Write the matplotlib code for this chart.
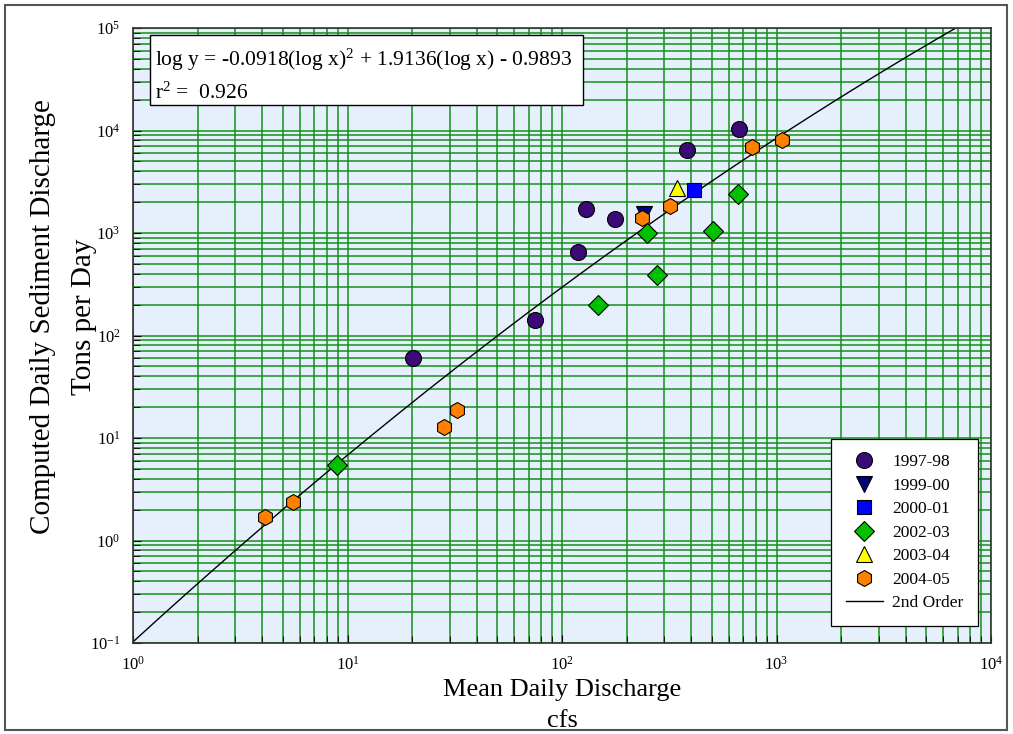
import numpy as np
import matplotlib
matplotlib.use('Agg')
import matplotlib.pyplot as plt
from matplotlib.patches import Rectangle
from matplotlib.ticker import LogLocator, NullFormatter

plt.rcParams['font.family'] = ['Liberation Serif', 'DejaVu Serif']
plt.rcParams['mathtext.fontset'] = 'custom'
plt.rcParams['mathtext.rm'] = 'Liberation Serif'
plt.rcParams['mathtext.it'] = 'Liberation Serif:italic'

# sampled discharge (cfs) vs computed sediment load (tons/day), by water year
q_9798 = [20.2, 74.8, 119, 129, 177, 383, 668]
s_9798 = [60, 142, 653, 1714, 1370, 6460, 10350]

q_9900 = [240]
s_9900 = [1530]

q_0001 = [412]
s_0001 = [2630]

q_0203 = [8.93, 147, 249, 277, 504, 664]
s_0203 = [5.46, 199, 1000, 392, 1052, 2390]

q_0304 = [343]
s_0304 = [2750]

q_0405 = [4.13, 5.57, 28.2, 32.4, 237, 320, 771, 1062]
s_0405 = [1.69, 2.38, 12.9, 18.6, 1400, 1845, 6950, 8070]

# 2nd order fit in log space
c2, c1, c0 = -0.0918, 1.9136, -0.9893

fig = plt.figure(figsize=(10.13, 7.34), dpi=100)
ax = fig.add_axes([133 / 1013, 1 - 643 / 734, 858 / 1013, 615 / 734])
ax.set_facecolor('#e6f0fc')

ax.set_xscale('log')
ax.set_yscale('log')
ax.set_xlim(1, 1e4)
ax.set_ylim(0.1, 1e5)

ax.xaxis.set_major_locator(LogLocator(base=10, numticks=10))
ax.yaxis.set_major_locator(LogLocator(base=10, numticks=10))
ax.xaxis.set_minor_locator(LogLocator(base=10, subs=np.arange(2, 10), numticks=50))
ax.yaxis.set_minor_locator(LogLocator(base=10, subs=np.arange(2, 10), numticks=50))
ax.xaxis.set_minor_formatter(NullFormatter())
ax.yaxis.set_minor_formatter(NullFormatter())

ax.grid(True, which='both', color='#14901a', linewidth=1.1)
ax.set_axisbelow(True)
ax.tick_params(which='both', direction='in', colors='black', labelsize=12)
ax.tick_params(which='major', length=6, pad=9)
ax.tick_params(which='minor', length=5)
for sp in ax.spines.values():
    sp.set_color('#333333')
    sp.set_linewidth(1.2)

xfit = np.logspace(0, 4, 400)
lx = np.log10(xfit)
yfit = 10 ** (c2 * lx ** 2 + c1 * lx + c0)

ms = 11.5
ax.plot(q_9798, s_9798, 'o', ms=ms, mfc='#3c0a78', mec='black', mew=0.8, label='1997-98', zorder=3)
ax.plot(q_9900, s_9900, 'v', ms=ms, mfc='#00007a', mec='black', mew=0.8, label='1999-00', zorder=3)
ax.plot(q_0001, s_0001, 's', ms=10.5, mfc='#0000ff', mec='black', mew=0.8, label='2000-01', zorder=3)
ax.plot(q_0203, s_0203, 'D', ms=10, mfc='#00c000', mec='black', mew=0.8, label='2002-03', zorder=3)
ax.plot(q_0304, s_0304, '^', ms=ms, mfc='#ffff00', mec='black', mew=0.8, label='2003-04', zorder=3)
ax.plot(q_0405, s_0405, 'h', ms=ms, mfc='#ff7f00', mec='black', mew=0.8, label='2004-05', zorder=4)
ax.plot(xfit, yfit, color='black', lw=1.0, label='2nd Order', zorder=2)

leg = ax.legend(loc='lower right', bbox_to_anchor=(0.985, 0.028), borderaxespad=0,
                fontsize=12.5, frameon=True, fancybox=False, shadow=False,
                edgecolor='black', facecolor='white', framealpha=1,
                labelspacing=0.42, handlelength=2.1, handletextpad=0.55,
                borderpad=0.85)
leg.get_frame().set_linewidth(0.9)
leg.set_zorder(6)

# equation box
ax.add_patch(Rectangle((0.0198, 0.8748), 0.5047, 0.1138, transform=ax.transAxes,
                       facecolor='white', edgecolor='black', lw=1.0, zorder=5))
ax.text(0.0256, 0.938, r'log y = -0.0918(log x)$^2$ + 1.9136(log x) - 0.9893',
        transform=ax.transAxes, fontsize=15.5, va='baseline', zorder=6)
ax.text(0.0256, 0.885, r'r$^2$ =  0.926', transform=ax.transAxes,
        fontsize=15.5, va='baseline', zorder=6)

ax.set_xlabel('Mean Daily Discharge\ncfs', fontsize=19, linespacing=1.55, labelpad=4)
ax.set_ylabel('Computed Daily Sediment Discharge\nTons per Day', fontsize=21,
              linespacing=1.75)
ax.yaxis.set_label_coords(-0.042, 0.53)

# outer frame
fig.patches.append(Rectangle((5 / 1013, 4 / 734), 1002 / 1013, 725 / 734,
                             transform=fig.transFigure, fill=False,
                             edgecolor='#555555', lw=1.5))

fig.savefig('out.png', dpi=100)
